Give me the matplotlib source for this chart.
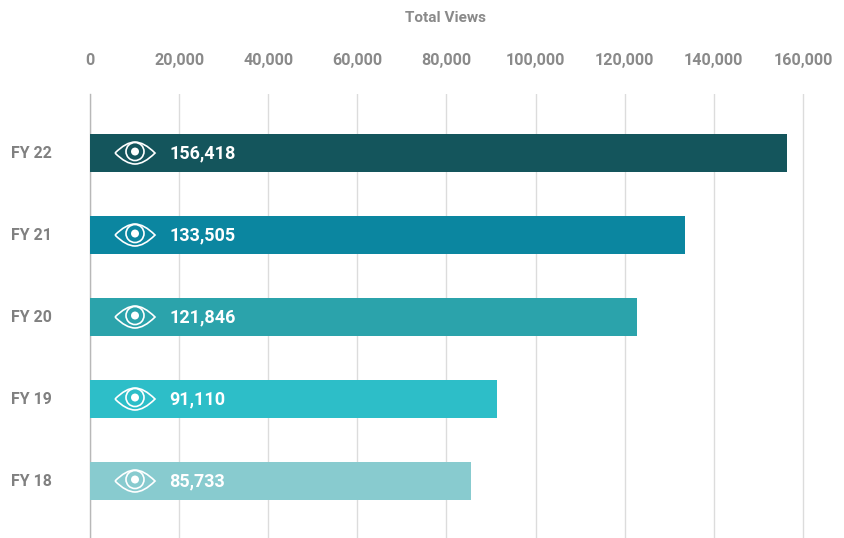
import numpy as np
import matplotlib
matplotlib.use("Agg")
import matplotlib.pyplot as plt
from matplotlib.patches import Circle, PathPatch
from matplotlib.path import Path
from matplotlib.ticker import FuncFormatter
from matplotlib.transforms import Affine2D

# data
years = ["FY 22", "FY 21", "FY 20", "FY 19", "FY 18"]
views = [156418, 133505, 122800, 91300, 85500]  # bar lengths as drawn
labels = ["156,418", "133,505", "121,846", "91,110", "85,733"]  # printed on the bars
colors = ["#14555c", "#0b86a0", "#2ba3ab", "#2dbec8", "#88cbcf"]
ticks = [0, 20000, 40000, 60000, 80000, 100000, 120000, 140000, 160000]

plt.rcParams["font.family"] = ["Roboto", "DejaVu Sans"]
plt.rcParams["font.weight"] = "bold"

W, H = 845, 538
fig = plt.figure(figsize=(W / 100, H / 100), dpi=100)
# axes from x=90px to the right edge, y=94px down to the bottom edge
ax = fig.add_axes([90 / W, 0, 1 - 90 / W, 1 - 94 / H])

y = np.arange(len(years))
ax.barh(y, views, height=0.472, color=colors, zorder=3)
ax.set_xlim(0, 755 / 713 * 160000)
ax.set_ylim(4.695, -0.72)

ax.set_xticks(ticks)
ax.xaxis.set_major_formatter(FuncFormatter(lambda v, p: f"{int(v):,}"))
ax.xaxis.tick_top()
ax.tick_params(axis="x", length=0, pad=19, labelsize=11.6, labelcolor="#8a8a8a")
ax.grid(axis="x", color="#dcdcdc", lw=1, zorder=0)

ax.set_yticks(y)
ax.set_yticklabels(years, ha="left", va="center")
ax.tick_params(axis="y", length=0, pad=57, labelsize=11.4, labelcolor="#808080")

for s in ["top", "right", "bottom"]:
    ax.spines[s].set_visible(False)
ax.spines["left"].set_color("#b8b8b8")
ax.spines["left"].set_linewidth(1)

fig.text(446 / W, 1 - 17.5 / H, "Total Views", ha="center", va="center",
         fontsize=11.1, color="#8a8a8a")

# eye outline in pixels, around the middle of the icon (y up)
eye_path = Path(
    [(-20, 0), (-9, 11), (0, 11), (9, 11), (20, 0), (9, -11), (0, -11), (-9, -11), (-20, 0)],
    [Path.MOVETO, Path.CURVE3, Path.CURVE3, Path.CURVE3, Path.CURVE3,
     Path.CURVE3, Path.CURVE3, Path.CURVE3, Path.CURVE3],
)

fig.canvas.draw()
for i, lab in enumerate(labels):
    px, py = ax.transData.transform((0, i))
    tr = Affine2D().translate(px + 45, py)
    ax.add_patch(PathPatch(eye_path, fc="none", ec="white", lw=1.2, transform=tr, zorder=4))
    ax.add_patch(Circle((0, 1.5), 9, fc="none", ec="white", lw=1.2, transform=tr, zorder=4))
    ax.add_patch(Circle((0, 1.5), 4, fc="white", ec="none", transform=tr, zorder=4))
    ax.annotate(lab, (0, i), xytext=(79.5 * 0.72, 0), textcoords="offset points",
                ha="left", va="center", color="white", fontsize=13, zorder=5)

fig.savefig("out.png", dpi=100)
